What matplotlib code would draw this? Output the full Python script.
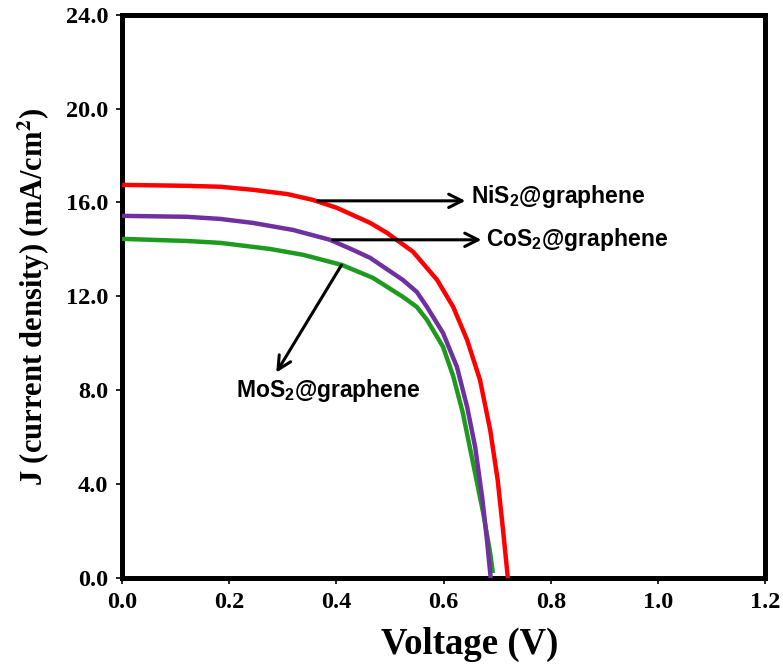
# J-V curves of the three sulfide@graphene counter electrodes
import matplotlib.pyplot as plt

# --- data ---
v_nis2 = [0.0, 0.121, 0.183, 0.244, 0.308, 0.356, 0.401, 0.463, 0.494,
          0.543, 0.588, 0.618, 0.644, 0.668, 0.687, 0.701, 0.711, 0.720]
j_nis2 = [16.75, 16.71, 16.67, 16.54, 16.36, 16.11, 15.77, 15.13, 14.71,
          13.90, 12.70, 11.55, 10.14, 8.44, 6.31, 4.18, 2.05, 0.0]

v_cos2 = [0.0, 0.121, 0.183, 0.244, 0.319, 0.388, 0.431, 0.463, 0.524, 0.550,
          0.569, 0.599, 0.625, 0.644, 0.659, 0.672, 0.681, 0.688]
j_cos2 = [15.43, 15.39, 15.30, 15.13, 14.83, 14.41, 13.98, 13.64, 12.70, 12.19,
          11.55, 10.44, 8.99, 7.29, 5.58, 3.45, 1.62, 0.0]

v_mos2 = [0.0, 0.121, 0.183, 0.244, 0.276, 0.338, 0.410, 0.468, 0.524, 0.550,
          0.569, 0.599, 0.618, 0.636, 0.655, 0.674, 0.687, 0.692]
j_mos2 = [14.45, 14.36, 14.28, 14.11, 14.02, 13.77, 13.34, 12.79, 11.98, 11.55,
          11.00, 9.85, 8.60, 7.03, 4.90, 2.77, 1.07, 0.21]

x_ticks = [0.0, 0.2, 0.4, 0.6, 0.8, 1.0, 1.2]
x_labels = ["0.0", "0.2", "0.4", "0.6", "0.8", "1.0", "1.2"]
y_ticks = [0, 4, 8, 12, 16, 20, 24]
y_labels = ["0.0", "4.0", "8.0", "12.0", "16.0", "20.0", "24.0"]

serif = ["Liberation Serif", "DejaVu Serif"]
sans = ["Liberation Sans", "DejaVu Sans"]

plt.rcParams["mathtext.fontset"] = "custom"
plt.rcParams["mathtext.bf"] = "Liberation Sans:bold"
plt.rcParams["mathtext.rm"] = "Liberation Sans"

fig = plt.figure(figsize=(7.83, 6.69), dpi=100)
ax = fig.add_axes([0.156, 0.136, 0.821, 0.842])

for v, j, c, z in [(v_nis2, j_nis2, "#FF0000", 3),
                   (v_mos2, j_mos2, "#1E9A1E", 3),
                   (v_cos2, j_cos2, "#7030A0", 4)]:
    ax.plot(v, j, color=c, lw=3.2, clip_on=False, zorder=z,
            solid_joinstyle="round", solid_capstyle="butt")

ax.set_xlim(0, 1.2)
ax.set_ylim(0, 24)
ax.set_xticks(x_ticks)
ax.set_xticklabels(x_labels)
ax.set_yticks(y_ticks)
ax.set_yticklabels(y_labels)

for side in ["left", "right", "top", "bottom"]:
    ax.spines[side].set_linewidth(3.6)
ax.tick_params(direction="out", length=4, width=1.2, pad=6)
for lab in ax.get_xticklabels() + ax.get_yticklabels():
    lab.set_fontfamily(serif)
    lab.set_fontweight("bold")
    lab.set_fontsize(17.5)

ax.set_xlabel("Voltage (V)", fontfamily=serif, fontweight="bold",
              fontsize=26.5, labelpad=10, x=0.541)
ax.set_ylabel("J (current density) (mA/cm$^\\mathbf{2}$)", fontfamily=serif,
              fontweight="bold", fontsize=22, labelpad=10, math_fontfamily="stix")

# annotations with arrows
arrow = dict(arrowstyle="->", lw=2.2, color="black", mutation_scale=24)
ax.annotate("", xy=(0.646, 16.07), xytext=(0.360, 16.07), arrowprops=arrow, zorder=5)
ax.annotate("", xy=(0.676, 14.41), xytext=(0.388, 14.41), arrowprops=arrow, zorder=5)
ax.annotate("", xy=(0.285, 8.65), xytext=(0.412, 13.43), arrowprops=arrow, zorder=5)

ax.text(0.652, 16.24, "NiS$_\\mathbf{2}$@graphene", fontfamily=sans,
        fontweight="bold", fontsize=16.5, va="center", ha="left")
ax.text(0.679, 14.41, "CoS$_\\mathbf{2}$@graphene", fontfamily=sans,
        fontweight="bold", fontsize=16.5, va="center", ha="left")
ax.text(0.213, 8.0, "MoS$_\\mathbf{2}$@graphene", fontfamily=sans,
        fontweight="bold", fontsize=16.5, va="center", ha="left")

plt.savefig("out.png", dpi=100)
